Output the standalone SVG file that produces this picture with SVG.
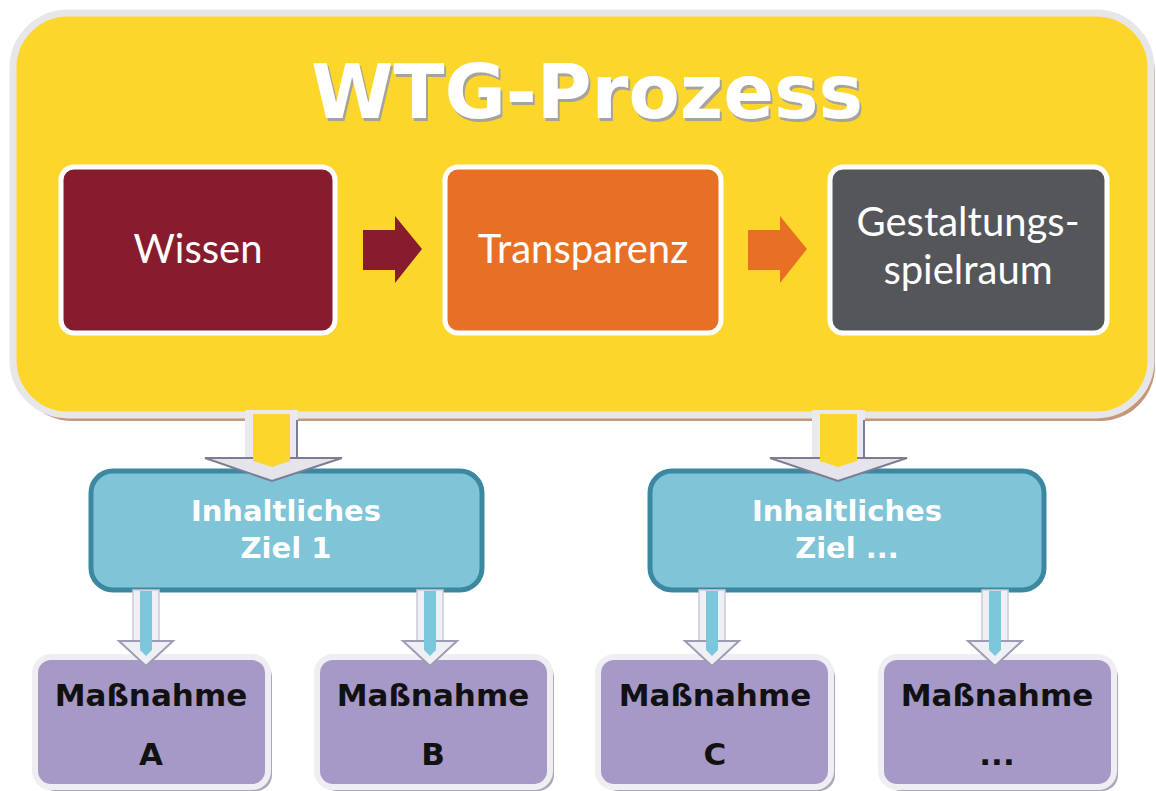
<svg xmlns="http://www.w3.org/2000/svg" width="1156" height="791" viewBox="0 0 1156 791">
<defs>
<style>
.title{font-family:"DejaVu Sans",Verdana,sans-serif;font-weight:bold;font-size:74px;text-anchor:middle;fill:#ffffff}
.step{font-family:Lato,"Open Sans",sans-serif;font-size:40px;fill:#ffffff;text-anchor:middle}
.goal{font-family:"DejaVu Sans",Verdana,sans-serif;font-weight:bold;font-size:29px;fill:#ffffff;text-anchor:middle}
.mass{font-family:"DejaVu Sans",Verdana,sans-serif;font-weight:bold;font-size:31px;fill:#111111;text-anchor:middle}
.stepbox{stroke:#ffffff;stroke-width:5}
.goalbox{fill:#80C4D8;stroke:#3C88A1;stroke-width:5}
.massbox{fill:#A699C8;stroke:#EFEEF3;stroke-width:6}
.massshadow{fill:#A9AAB8}
.bigshaft{fill:#E9E9EE}
.bighead{fill:#E4E4EA;stroke:#7C7C94;stroke-width:2}
.yellow{fill:#FCD62B}
.smallshaft{fill:#EEF0F5;stroke:#C9CCD8;stroke-width:1.5}
.smallhead{fill:#EEF0F5;stroke:#9C9CB2;stroke-width:2}
.smallinner{fill:#7CC7DB}
</style>
<filter id="tshadow" x="-5%" y="-20%" width="110%" height="140%">
<feDropShadow dx="2" dy="3" stdDeviation="0.6" flood-color="#9C9CA8" flood-opacity="0.9"/>
</filter>
</defs>

<g id="wtg-prozess">
<rect x="17" y="18" width="1138" height="403" rx="55" fill="#C4977A"/>
<rect x="13" y="13" width="1138" height="402" rx="55" fill="#FCD62B" stroke="#E7E7E9" stroke-width="7"/>
<text class="title" x="587" y="118" filter="url(#tshadow)" textLength="552" lengthAdjust="spacingAndGlyphs">WTG-Prozess</text>
</g>

<g id="wissen">
<rect class="stepbox" x="61" y="167" width="274" height="166" rx="13" fill="#861C2E"/>
<text class="step" x="198" y="263">Wissen</text>
</g>

<g id="transparenz">
<rect class="stepbox" x="445" y="167" width="276" height="166" rx="13" fill="#E87025"/>
<text class="step" x="583" y="263">Transparenz</text>
</g>

<g id="gestaltungsspielraum">
<rect class="stepbox" x="830" y="167" width="277" height="166" rx="13" fill="#54565A"/>
<text class="step" x="968" y="236">Gestaltungs-</text>
<text class="step" x="968" y="284">spielraum</text>
</g>

<g id="ziel-1">
<rect class="goalbox" x="91" y="471" width="391" height="119" rx="22"/>
<text class="goal" x="286" y="521">Inhaltliches</text>
<text class="goal" x="286" y="558">Ziel 1</text>
</g>

<g id="ziel-n">
<rect class="goalbox" x="650" y="471" width="394" height="119" rx="22"/>
<text class="goal" x="847" y="521">Inhaltliches</text>
<text class="goal" x="847" y="558">Ziel ...</text>
</g>

<g id="massnahme-a">
<rect class="massshadow" x="39" y="661" width="233" height="130" rx="16"/>
<rect class="massbox" x="35" y="657" width="233" height="130" rx="16"/>
<text class="mass" x="151" y="706">Maßnahme</text>
<text class="mass" x="151" y="765">A</text>
</g>

<g id="massnahme-b">
<rect class="massshadow" x="321" y="661" width="233" height="130" rx="16"/>
<rect class="massbox" x="317" y="657" width="233" height="130" rx="16"/>
<text class="mass" x="433" y="706">Maßnahme</text>
<text class="mass" x="433" y="765">B</text>
</g>

<g id="massnahme-c">
<rect class="massshadow" x="602" y="661" width="233" height="130" rx="16"/>
<rect class="massbox" x="598" y="657" width="233" height="130" rx="16"/>
<text class="mass" x="715" y="706">Maßnahme</text>
<text class="mass" x="715" y="765">C</text>
</g>

<g id="massnahme-n">
<rect class="massshadow" x="885" y="661" width="233" height="130" rx="16"/>
<rect class="massbox" x="881" y="657" width="233" height="130" rx="16"/>
<text class="mass" x="997" y="706">Maßnahme</text>
<text class="mass" x="997" y="765">...</text>
</g>

<g id="connectors">
<!-- step arrows -->
<polygon points="363,230 395,230 395,216 422,249 395,283 395,270 363,270" fill="#861C2E"/>
<polygon points="748,230 780,230 780,216 807,249 780,283 780,270 748,270" fill="#E87025"/>

<!-- big arrow left -->
<rect class="bigshaft" x="245" y="410" width="53" height="52"/>
<line x1="297" y1="420" x2="297" y2="457" stroke="#7C7C94" stroke-width="2"/>
<polygon class="bighead" points="205,458 342,458 272,481"/>
<polygon class="yellow" points="253,414 290,414 290,461 272,467 253,461"/>

<!-- big arrow right -->
<rect class="bigshaft" x="812" y="410" width="53" height="52"/>
<line x1="864" y1="420" x2="864" y2="457" stroke="#7C7C94" stroke-width="2"/>
<polygon class="bighead" points="770,458 907,458 838,481"/>
<polygon class="yellow" points="820,414 857,414 857,461 838,467 820,461"/>

<!-- small arrows -->
<rect class="smallshaft" x="133" y="590" width="26" height="52"/>
<polygon class="smallhead" points="119,641 173,641 146,666"/>
<polygon class="smallinner" points="140,591 152,591 152,650 146,656 140,650"/>

<rect class="smallshaft" x="417" y="590" width="26" height="52"/>
<polygon class="smallhead" points="403,641 457,641 430,666"/>
<polygon class="smallinner" points="424,591 436,591 436,650 430,656 424,650"/>

<rect class="smallshaft" x="699" y="590" width="26" height="52"/>
<polygon class="smallhead" points="685,641 739,641 712,666"/>
<polygon class="smallinner" points="706,591 718,591 718,650 712,656 706,650"/>

<rect class="smallshaft" x="982" y="590" width="26" height="52"/>
<polygon class="smallhead" points="968,641 1022,641 995,666"/>
<polygon class="smallinner" points="989,591 1001,591 1001,650 995,656 989,650"/>
</g>
</svg>
